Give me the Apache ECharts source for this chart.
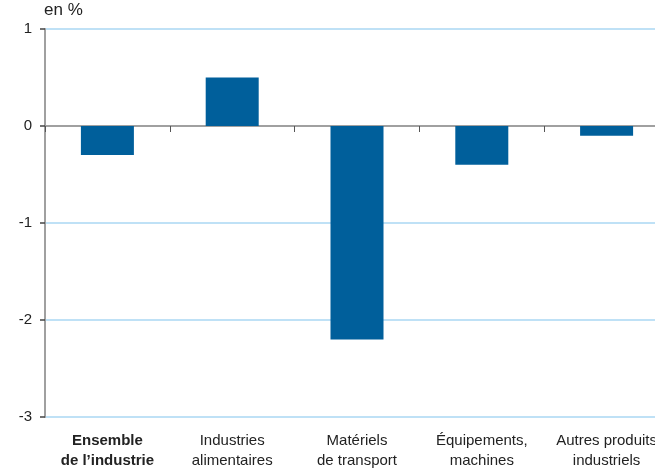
<!DOCTYPE html>
<html>
<head>
<meta charset="utf-8">
<script src="https://cdn.jsdelivr.net/npm/echarts@6/dist/echarts.min.js"></script>
<style>
  html, body { margin: 0; padding: 0; background: #fff; }
  #chart { width: 655px; height: 474px; }
</style>
</head>
<body>
<div id="chart"></div>
<script>
// Variation par branche, en %
const categories = [
  'Ensemble\nde l\u2019industrie',
  'Industries\nalimentaires',
  'Mat\u00e9riels\nde transport',
  '\u00c9quipements,\nmachines',
  'Autres produits\nindustriels'
];
const values = [-0.3, 0.5, -2.2, -0.4, -0.1];
const yTicks = { min: -3, max: 1, interval: 1 };
const unitLabel = 'en %';

const FONT = '"Liberation Sans", Arial, sans-serif';
const chart = echarts.init(document.getElementById('chart'), null, { renderer: 'canvas' });

chart.setOption({
  animation: false,
  title: {
    text: unitLabel,
    left: 44,
    top: 2,
    padding: 0,
    textStyle: { fontFamily: FONT, fontSize: 17, fontWeight: 'normal', color: '#222' }
  },
  grid: { left: 45, top: 29, width: 624, height: 388, outerBoundsMode: 'none', containLabel: false },
  xAxis: [
    {
      type: 'category',
      data: categories,
      axisLine: { onZero: true, lineStyle: { color: '#a0a0a0', width: 2 } },
      axisTick: { show: true, length: 6, lineStyle: { color: '#555', width: 1 } },
      axisLabel: { show: false },
      splitLine: { show: false }
    },
    {
      type: 'category',
      position: 'bottom',
      data: categories.map((c, i) => i === 0
        ? { value: c, textStyle: { fontWeight: 'bold' } }
        : c),
      axisLine: { show: false, onZero: false },
      axisTick: { show: false },
      axisLabel: {
        margin: 14,
        fontFamily: FONT,
        fontSize: 15,
        lineHeight: 20,
        color: '#222',
        interval: 0
      }
    }
  ],
  yAxis: {
    type: 'value',
    min: yTicks.min,
    max: yTicks.max,
    interval: yTicks.interval,
    axisLine: { show: true, lineStyle: { color: '#a0a0a0', width: 2 } },
    axisTick: { show: true, length: 5, lineStyle: { color: '#444', width: 1.5 } },
    axisLabel: { margin: 13, fontFamily: FONT, fontSize: 15, color: '#222' },
    splitLine: { show: true, lineStyle: { color: '#aad7f3', width: 1.5 } }
  },
  series: [{
    type: 'bar',
    xAxisIndex: 0,
    data: values,
    barWidth: 53,
    itemStyle: { color: '#005f9b' }
  }]
});
</script>
</body>
</html>
